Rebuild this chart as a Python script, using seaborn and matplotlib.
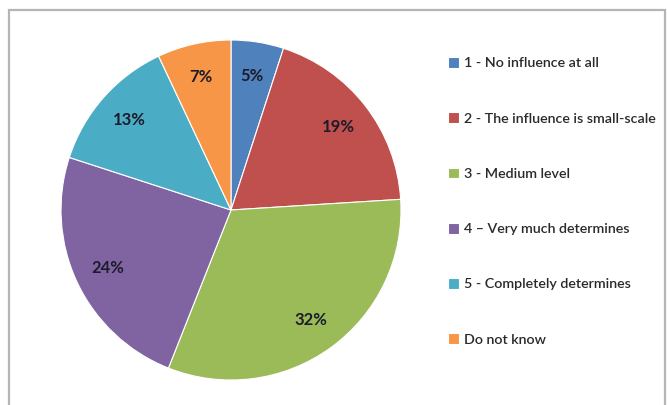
import numpy as np
import matplotlib
matplotlib.use('Agg')
import matplotlib.pyplot as plt
import seaborn as sns
from matplotlib.patches import Rectangle

sns.set_theme(style='white')
plt.rcParams['font.family'] = ['Lato', 'DejaVu Sans']

# survey answers and their shares (%)
categories = ['1 - No influence at all',
              '2 - The influence is small-scale',
              '3 - Medium level',
              '4 \u2013 Very much determines',
              '5 - Completely determines',
              'Do not know']
shares = [5, 19, 32, 24, 13, 7]
colors = ['#4F81BD', '#C0504D', '#9BBB59', '#8064A2', '#4BACC6', '#F79646']

fig = plt.figure(figsize=(6.67, 4.05), dpi=100)

# grey chart frame (bottom runs off the picture)
fig.patches.append(Rectangle((9 / 667, -0.1), 656 / 667, 1.1 - 10 / 405,
                             transform=fig.transFigure, fill=False,
                             edgecolor='#b5b5b5', linewidth=1.6))

ax = fig.add_axes([61 / 667, 25 / 405, 340 / 667, 340 / 405])
wedges, texts, autotexts = ax.pie(shares, colors=colors, startangle=90, counterclock=False,
                                  autopct='%.0f%%', pctdistance=0.8, radius=1,
                                  wedgeprops=dict(edgecolor='white', linewidth=0.8),
                                  textprops=dict(fontsize=12, fontweight='bold', color='#1c1c2a'))
ax.set_xlim(-1, 1)
ax.set_ylim(-1, 1)
ax.set_aspect('equal')

leg = fig.legend(wedges, categories, loc='upper left', bbox_to_anchor=(448 / 667, 1 - 57 / 405),
                 frameon=False, fontsize=10.3, handlelength=0.78, handleheight=0.78,
                 handletextpad=0.35, labelspacing=3.0, borderpad=0, borderaxespad=0)
for t in leg.get_texts():
    t.set_fontweight('semibold')
    t.set_color('#2a2a2a')

plt.savefig('out.png', dpi=100)
